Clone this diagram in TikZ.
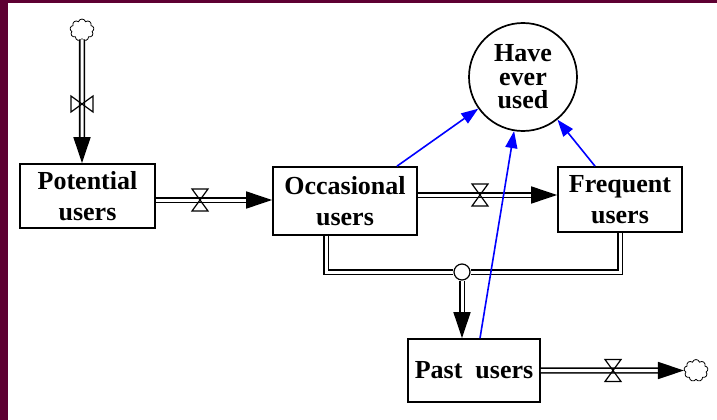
\documentclass[tikz,border=0pt]{standalone}
\usepackage{fontspec}
\setmainfont{Liberation Serif}
\usetikzlibrary{arrows.meta,shapes.symbols}

\definecolor{frame}{RGB}{94,0,50}

\tikzset{
  stock/.style={draw, rectangle, line width=1.7pt, align=center, inner sep=0pt,
    font=\bfseries\fontsize{26}{31}\selectfont},
  pipeline/.style={double, double distance=3pt, line width=1.6pt},
  pipe/.style={pipeline, -{Triangle[length=26pt,width=17pt]}},
  link/.style={blue, line width=1.6pt, -{Triangle[length=17pt,width=12pt]}},
  sink/.style={cloud, cloud puffs=9, draw, line width=0.8pt, minimum width=24pt,
    minimum height=22pt, inner sep=0pt},
  valve/.pic={\draw[line width=1.2pt] (-8pt,-11pt) -- (8pt,-11pt) -- (-8pt,11pt) -- (8pt,11pt) -- cycle;}
}

\begin{document}
\begin{tikzpicture}[x=1pt, y=-1pt]
    \useasboundingbox (0,0) rectangle (717,420);
    \fill[frame] (0,0) rectangle (8,420);
    \fill[frame] (0,0) rectangle (717,3);

    \node[stock, minimum width=135pt, minimum height=64pt] (pot) at (87.5,196) {Potential\\users};
    \node[stock, minimum width=144pt, minimum height=68pt] (occ) at (345,201) {Occasional\\users};
    \node[stock, minimum width=124pt, minimum height=65pt] (freq) at (620,199.5) {Frequent\\users};
    \node[stock, minimum width=132pt, minimum height=63pt] (past) at (474,370.5) {Past\ \ users};
    \node[circle, draw, line width=1.7pt, minimum size=108pt, inner sep=0pt, align=center,
      font=\bfseries\fontsize{26}{23.5}\selectfont] (ever) at (523,77) {Have\\ever\\used};

    \node[sink] (src) at (82,30) {};
    \node[sink] (drain) at (696,370.5) {};
    \node[circle, draw, line width=1.2pt, fill=white, minimum size=16pt, inner sep=0pt] (junc) at (462,272) {};

    % flows
    \draw[pipe] (src) -- (src |- pot.north);
    \draw[pipe] ([yshift=-4pt]pot.east) -- ([yshift=-4pt]pot.east -| occ.west);
    \draw[pipe] ([yshift=6pt]occ.east) -- ([yshift=6pt]occ.east -| freq.west);
    \draw[pipeline] ([xshift=-19pt]occ.south) |- (junc);
    \draw[pipeline] (freq.south) |- (junc);
    \draw[pipe] (junc) -- (junc |- past.north);
    \draw[pipe] (past.east) -- (drain);

    \pic[rotate=90] at (82,104) {valve};
    \pic at (200,200) {valve};
    \pic at (480,195) {valve};
    \pic at (613,370.5) {valve};

    % information links
    \draw[link] ([xshift=52pt]occ.north) -- (ever);
    \draw[link] ([xshift=6pt]past.north) -- (ever);
    \draw[link] ([xshift=-25pt]freq.north) -- (ever);
\end{tikzpicture}
\end{document}
